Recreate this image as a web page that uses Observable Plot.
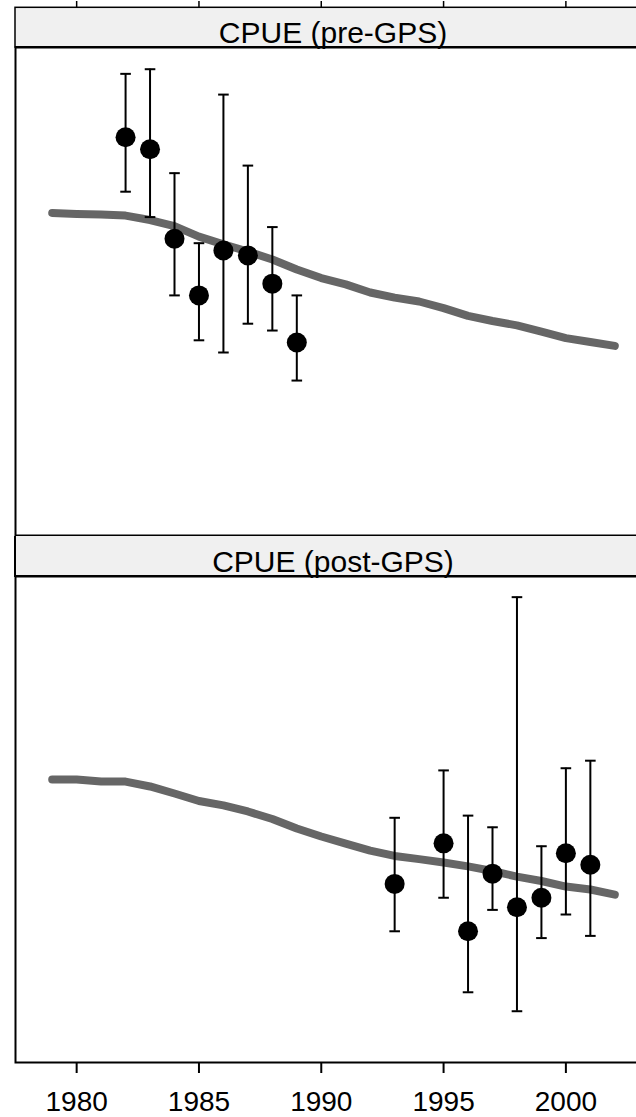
<!DOCTYPE html>
<html>
<head>
<meta charset="utf-8">
<script src="https://cdn.jsdelivr.net/npm/d3@7"></script>
<script src="https://cdn.jsdelivr.net/npm/@observablehq/plot@0.6"></script>
<style>
  html, body { margin: 0; padding: 0; background: #fff; overflow: hidden; }
  #chart { width: 636px; height: 1117px; overflow: hidden; position: relative; background: #fff; }
  #chart svg { display: block; max-width: none; }
</style>
</head>
<body>
<div id="chart"></div>
<script>
// ---- data ----
const lineYears = [1979,1980,1981,1982,1983,1984,1985,1986,1987,1988,1989,1990,1991,1992,1993,1994,1995,1996,1997,1998,1999,2000,2001,2002];
const preModel  = [1.322,1.318,1.316,1.311,1.293,1.268,1.225,1.193,1.164,1.131,1.090,1.055,1.029,0.996,0.975,0.959,0.932,0.900,0.879,0.861,0.836,0.809,0.793,0.777];
const postModel = [1.165,1.165,1.156,1.156,1.136,1.107,1.076,1.058,1.033,1.002,0.963,0.930,0.901,0.872,0.850,0.837,0.823,0.807,0.788,0.765,0.747,0.724,0.712,0.691];

const preYears = [1982,1983,1984,1985,1986,1987,1988,1989];
const preIndex = [1.632,1.583,1.216,0.984,1.168,1.148,1.032,0.791];
const preLower = [1.409,1.305,0.984,0.800,0.750,0.868,0.840,0.635];
const preUpper = [1.892,1.911,1.485,1.198,1.807,1.516,1.264,0.984];

const postYears = [1993,1995,1996,1997,1998,1999,2000,2001];
const postIndex = [0.735,0.902,0.540,0.777,0.639,0.678,0.861,0.814];
const postLower = [0.540,0.678,0.289,0.628,0.211,0.512,0.609,0.521];
const postUpper = [1.007,1.202,1.016,0.968,1.915,0.890,1.211,1.242];

const xTicks = [1980,1985,1990,1995,2000];
const panelTitles = ["CPUE (pre-GPS)", "CPUE (post-GPS)"];

// ---- helpers ----
const FONT = '"Liberation Sans", Arial, Helvetica, sans-serif';
const W = 652;               // panel continues past the right edge of the window
const xDomain = [1977.5, 2003.5];
const yDomain = [0, 2];

const toLine = (vals) => lineYears.map((year, i) => ({year, value: vals[i]}));
const toObs = (years, est, lo, hi) => years.map((year, i) => ({year, est: est[i], lo: lo[i], hi: hi[i]}));

const capSymbol = {
  draw(ctx, size) {
    const w = Math.sqrt(size / Math.PI);
    ctx.moveTo(-w, 0);
    ctx.lineTo(w, 0);
  }
};

function dataMarks(model, obs) {
  return [
    Plot.frame({stroke: "black", strokeWidth: 2}),
    Plot.line(model, {x: "year", y: "value", stroke: "#666666", strokeWidth: 8, strokeLinecap: "round", strokeLinejoin: "round"}),
    Plot.ruleX(obs, {x: "year", y1: "lo", y2: "hi", stroke: "black", strokeWidth: 2}),
    Plot.dot(obs, {x: "year", y: "hi", symbol: capSymbol, r: 5.3, stroke: "black", strokeWidth: 2, fill: "none"}),
    Plot.dot(obs, {x: "year", y: "lo", symbol: capSymbol, r: 5.3, stroke: "black", strokeWidth: 2, fill: "none"}),
    Plot.dot(obs, {x: "year", y: "est", r: 10, fill: "black", stroke: "none"})
  ];
}

function addStrip(svg, y0, y1, label, strokeW) {
  const s = d3.select(svg);
  const g = s.append("g");
  g.append("rect")
    .attr("x", 15).attr("y", y0)
    .attr("width", W - 15).attr("height", y1 - y0)
    .attr("fill", "#f0f0f0").attr("stroke", "black").attr("stroke-width", strokeW);
  g.append("line")
    .attr("x1", 15).attr("x2", W).attr("y1", y1).attr("y2", y1)
    .attr("stroke", "black").attr("stroke-width", 2);
  g.append("text")
    .attr("x", (15 + W - 1) / 2).attr("y", y1 - 4.3)
    .attr("text-anchor", "middle")
    .attr("font-family", FONT).attr("font-size", 30)
    .attr("fill", "black")
    .text(label);
}

const chart = document.getElementById("chart");

// ---- top panel ----
const topPlot = Plot.plot({
  width: W, height: 536,
  marginTop: 47, marginBottom: 1, marginLeft: 15, marginRight: 1,
  style: {fontFamily: FONT, background: "white"},
  x: {domain: xDomain, label: null},
  y: {domain: yDomain, axis: null},
  marks: [
    Plot.axisX(xTicks, {anchor: "top", tickSize: 7, dy: -40, tickFormat: () => "", strokeWidth: 1.5, label: null}),
    ...dataMarks(toLine(preModel), toObs(preYears, preIndex, preLower, preUpper))
  ]
});
chart.appendChild(topPlot);
addStrip(topPlot, 7.3, 47, panelTitles[0], 1.5);

// ---- bottom panel ----
const bottomPlot = Plot.plot({
  width: W, height: 581,
  marginTop: 40, marginBottom: 55, marginLeft: 15, marginRight: 1,
  style: {fontFamily: FONT, background: "white"},
  x: {domain: xDomain, label: null},
  y: {domain: yDomain, axis: null},
  marks: [
    Plot.axisX(xTicks, {anchor: "bottom", tickSize: 11, tickPadding: 18, fontSize: 28, strokeWidth: 2, fill: "black", label: null, tickFormat: d => String(d)}),
    ...dataMarks(toLine(postModel), toObs(postYears, postIndex, postLower, postUpper))
  ]
});
chart.appendChild(bottomPlot);
addStrip(bottomPlot, -1, 40, panelTitles[1], 2);
</script>
</body>
</html>
